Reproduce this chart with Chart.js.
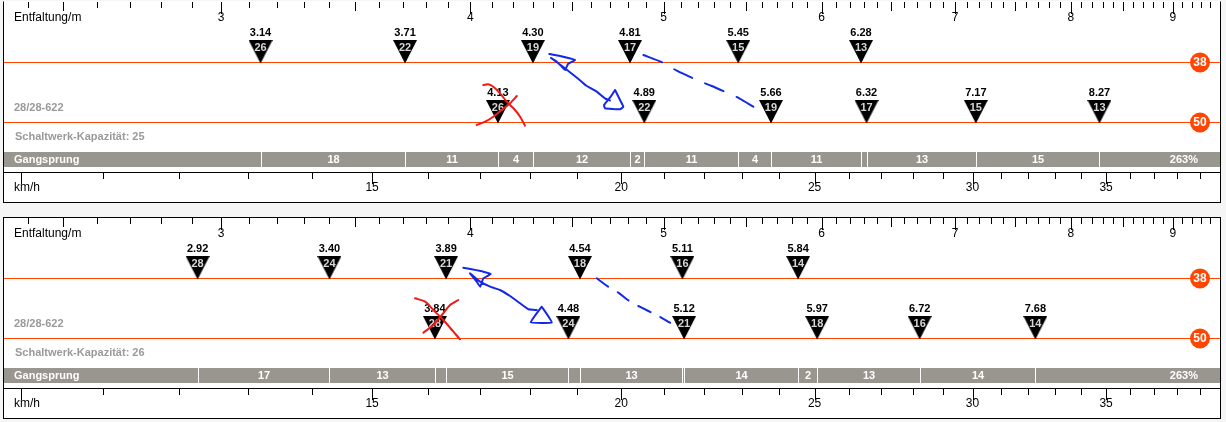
<!DOCTYPE html>
<html>
<head>
<meta charset="utf-8">
<title>Gangsprung</title>
<script src="https://cdn.jsdelivr.net/npm/chart.js@4.4.1/dist/chart.umd.min.js"></script>
<style>
  body { margin: 0; background: #f5f5f5; }
  .panel { position: absolute; left: 3px; width: 1216px; height: 200px; border: 1px solid #000; background: #fff; }
  #panel1 { top: 1px; border-top-color: #fff; }
  #panel2 { top: 217px; }
  canvas { display: block; }
</style>
</head>
<body>
<div class="panel" id="panel1"><canvas id="chart1" width="1216" height="200"></canvas></div>
<div class="panel" id="panel2"><canvas id="chart2" width="1216" height="200"></canvas></div>
<script>
// gearing shared by both panels
const chainrings = [38, 50];
const wheelSize = "28/28-622";
const cadence = 70; // rpm behind the km/h scale

// upper panel, cassette 13-26
const cogsA = [26, 22, 19, 17, 15, 13];
const devA38 = [3.14, 3.71, 4.30, 4.81, 5.45, 6.28];
const devA50 = [4.13, 4.89, 5.66, 6.32, 7.17, 8.27];
const jumpsA = ["18", "11", "4", "12", "2", "11", "4", "11", "", "13", "15"];
const spanA = "263%";
const capacityA = 25;

// lower panel, cassette 14-28
const cogsB = [28, 24, 21, 18, 16, 14];
const devB38 = [2.92, 3.40, 3.89, 4.54, 5.11, 5.84];
const devB50 = [3.84, 4.48, 5.12, 5.97, 6.72, 7.68];
const jumpsB = ["17", "13", "", "15", "", "13", "", "14", "2", "13", "14"];
const spanB = "263%";
const capacityB = 26;

const devTickLabels = [3, 4, 5, 6, 7, 8, 9];
const speedTickLabels = [15, 20, 25, 30, 35];

// hand drawn marks on top, as [development m, panel y]
const inkCrossA = [
  [[4.061, 83], [4.084, 82.3], [4.108, 84.7], [4.140, 91.3], [4.172, 99.7], [4.212, 108], [4.237, 114.7], [4.261, 123.7]],
  [[4.030, 123], [4.069, 119.7], [4.108, 114.7], [4.148, 108], [4.188, 101.3], [4.221, 94]]
];
const inkArrowA = [
  [[4.382, 52], [4.437, 54], [4.514, 58], [4.478, 62], [4.463, 68], [4.446, 64.7], [4.416, 59], [4.391, 56],
   [4.447, 64], [4.506, 73], [4.549, 79.7], [4.576, 84], [4.629, 89.7], [4.673, 96.3], [4.700, 98.5]],
  [[4.728, 88], [4.704, 94.7], [4.668, 103], [4.673, 106.3], [4.755, 107.3], [4.773, 104.7], [4.755, 98], [4.728, 88]]
];
const inkDashA = [[4.885, 53], [4.997, 60.7], [5.077, 68.7], [5.205, 78.7], [5.286, 84], [5.388, 91.3], [5.457, 96.3], [5.546, 104.7]];

const inkCrossB = [
  [[3.753, 80.3], [3.797, 83.7], [3.833, 92], [3.878, 102], [3.923, 113.7], [3.953, 121.3]],
  [[3.789, 114.7], [3.833, 107], [3.871, 97], [3.908, 87], [3.945, 82]]
];
const inkArrowB = [
  [[3.968, 49.7], [4.007, 51.3], [4.061, 53.7], [4.096, 56], [4.061, 60.3], [4.046, 68.7], [4.030, 63.7], [3.999, 55.3],
   [4.046, 63.7], [4.093, 68.7], [4.140, 72], [4.188, 78], [4.237, 85.3], [4.278, 91.3], [4.319, 92]],
  [[4.344, 88.7], [4.289, 104.3], [4.395, 104.3], [4.344, 88.7]]
];
const inkDashB = [[4.629, 60.3], [4.691, 68.7], [4.746, 74.7], [4.792, 81.3], [4.838, 86.3], [4.913, 93], [4.970, 98], [5.038, 104.7]];

// layout
const DEV_MIN = 2.3352, DEV_MAX = 9.5044;
const SPEED = cadence * 60 / 1000;
const ROW_Y = { 38: 60.5, 50: 120.5 };
const FONT = '"Liberation Sans", Arial, sans-serif';
const ORANGE = '#ff4500';
const BAR_GREY = '#99958f';
const TEXT_GREY = '#9a9a9a';
const RED_INK = '#f01a14';
const BLUE_INK = '#1428e8';

function triangleSprite() {
  const c = document.createElement('canvas');
  c.width = 24; c.height = 47;
  const g = c.getContext('2d');
  g.fillStyle = '#000';
  g.beginPath();
  g.moveTo(0, 1); g.lineTo(24, 1); g.lineTo(12, 24.5);
  g.closePath(); g.fill();
  return c;
}
const sprite = triangleSprite();

function inkSet(points, color, dash, tension) {
  return {
    type: 'line', role: 'ink', order: 1,
    data: points.map(p => ({ x: p[0], y: p[1] })),
    borderColor: color, borderWidth: 2, borderDash: dash || [],
    borderCapStyle: 'round', borderJoinStyle: 'round',
    pointRadius: 0, tension: tension, fill: false
  };
}

function makePanel(id, cogs, dev38, dev50, jumps, span, capacity, cross, arrow, dash, dashPattern) {
  const devs = { 38: dev38, 50: dev50 };
  const datasets = [];
  chainrings.forEach(r => {
    datasets.push({
      type: 'line', role: 'ring', ring: r, order: 3,
      data: [{ x: DEV_MIN, y: ROW_Y[r] }, { x: DEV_MAX, y: ROW_Y[r] }],
      borderColor: ORANGE, borderWidth: 1, pointRadius: 0
    });
    datasets.push({
      type: 'scatter', role: 'gears', ring: r, order: 2, cogs: cogs,
      data: devs[r].map(d => ({ x: d, y: ROW_Y[r] })),
      pointStyle: sprite, pointRadius: 12
    });
  });
  cross.forEach(s => datasets.push(inkSet(s, RED_INK, null, 0.25)));
  arrow.forEach(s => datasets.push(inkSet(s, BLUE_INK, null, 0.1)));
  datasets.push(inkSet(dash, BLUE_INK, dashPattern, 0.25));

  const sorted = dev38.concat(dev50).sort((a, b) => a - b);

  const panelPlugin = {
    id: 'panel',
    beforeDatasetsDraw(chart) {
      const { ctx, chartArea: a, scales: { x, kmh } } = chart;
      ctx.save();
      ctx.strokeStyle = '#000';
      ctx.lineWidth = 1;
      // development ticks every 0.1 m
      ctx.beginPath();
      for (let i = 24; i <= 95; i++) {
        const px = Math.round(x.getPixelForValue(i / 10)) + 0.5;
        const len = i % 10 === 0 ? 12 : (i % 5 === 0 ? 9 : 6);
        ctx.moveTo(px, a.top); ctx.lineTo(px, a.top + len);
      }
      // speed axis, ticks every km/h
      ctx.moveTo(a.left, 170.5); ctx.lineTo(a.right, 170.5);
      for (let k = 10; k <= 39; k++) {
        const px = Math.round(kmh.getPixelForValue(k)) + 0.5;
        ctx.moveTo(px, 171); ctx.lineTo(px, k % 5 === 0 ? 182 : 177);
      }
      ctx.stroke();

      ctx.fillStyle = '#000';
      ctx.font = '12px ' + FONT;
      ctx.textBaseline = 'middle';
      ctx.textAlign = 'center';
      devTickLabels.forEach(v => ctx.fillText(String(v), x.getPixelForValue(v), 16));
      speedTickLabels.forEach(v => ctx.fillText(String(v), kmh.getPixelForValue(v), 186));
      ctx.textAlign = 'left';
      ctx.fillText('Entfaltung/m', 10, 16);
      ctx.fillText('km/h', 10, 186);

      ctx.font = 'bold 11px ' + FONT;
      ctx.fillStyle = TEXT_GREY;
      ctx.fillText(wheelSize, 10, 106);
      ctx.fillText('Schaltwerk-Kapazität: ' + capacity, 11, 135);

      // Gangsprung bar
      ctx.fillStyle = BAR_GREY;
      ctx.fillRect(a.left, 150, a.right - a.left, 15);
      ctx.strokeStyle = '#fff';
      ctx.beginPath();
      const seps = sorted.map(d => Math.round(x.getPixelForValue(d)) + 0.5);
      seps.forEach(px => { ctx.moveTo(px, 150); ctx.lineTo(px, 165); });
      ctx.stroke();
      ctx.fillStyle = '#fff';
      ctx.fillText('Gangsprung', 10, 158);
      ctx.textAlign = 'center';
      jumps.forEach((j, i) => ctx.fillText(j, (seps[i] + seps[i + 1]) / 2, 158));
      ctx.textAlign = 'right';
      ctx.fillText(span, a.right - 22, 158);
      ctx.restore();
    },
    afterDatasetDraw(chart, args) {
      const ds = chart.data.datasets[args.index];
      const ctx = chart.ctx;
      const pts = args.meta.data;
      ctx.save();
      ctx.textAlign = 'center';
      ctx.textBaseline = 'middle';
      if (ds.role === 'ring') {
        const cx = chart.chartArea.right - 20, cy = pts[0].y;
        ctx.fillStyle = ORANGE;
        ctx.beginPath(); ctx.arc(cx, cy, 10, 0, Math.PI * 2); ctx.fill();
        ctx.fillStyle = '#fff';
        ctx.font = 'bold 12px ' + FONT;
        ctx.fillText(String(ds.ring), cx, cy + 0.5);
      } else if (ds.role === 'gears') {
        ctx.font = 'bold 11px ' + FONT;
        pts.forEach((p, i) => {
          ctx.fillStyle = '#000';
          ctx.fillText(ds.data[i].x.toFixed(2), p.x, p.y - 30);
          ctx.fillStyle = '#d6d6d6';
          ctx.fillText(String(ds.cogs[i]), p.x, p.y - 15);
        });
      }
      ctx.restore();
    }
  };

  return new Chart(document.getElementById(id), {
    type: 'scatter',
    data: { datasets },
    options: {
      responsive: false, animation: false, devicePixelRatio: 1, events: [],
      layout: { padding: 0, autoPadding: false },
      plugins: { legend: { display: false }, tooltip: { enabled: false } },
      scales: {
        x: { type: 'logarithmic', min: DEV_MIN, max: DEV_MAX, display: false },
        kmh: { type: 'logarithmic', axis: 'x', min: DEV_MIN * SPEED, max: DEV_MAX * SPEED, display: false },
        y: { type: 'linear', min: 0, max: 200, reverse: true, display: false }
      }
    },
    plugins: [panelPlugin]
  });
}

makePanel('chart1', cogsA, devA38, devA50, jumpsA, spanA, capacityA, inkCrossA, inkArrowA, inkDashA, [20, 14]);
makePanel('chart2', cogsB, devB38, devB50, jumpsB, spanB, capacityB, inkCrossB, inkArrowB, inkDashB, [14, 11]);
</script>
</body>
</html>
